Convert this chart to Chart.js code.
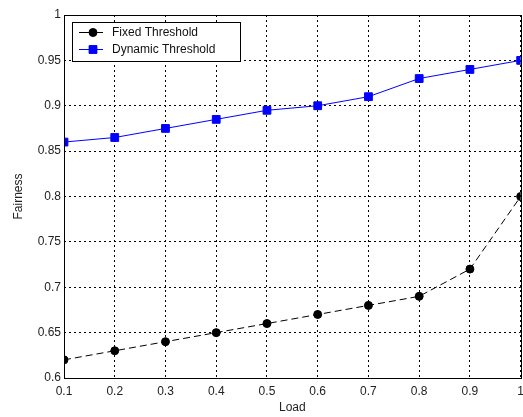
<!DOCTYPE html>
<html>
<head>
<meta charset="utf-8">
<script src="https://cdn.jsdelivr.net/npm/chart.js@4/dist/chart.umd.min.js"></script>
<style>
  html, body { margin: 0; padding: 0; overflow: hidden; background: #fff; }
  #wrap { width: 523px; height: 417px; overflow: hidden; }
</style>
</head>
<body>
<div id="wrap"><canvas id="chart" width="530" height="417"></canvas></div>
<script>
// data
const loads = [0.1, 0.2, 0.3, 0.4, 0.5, 0.6, 0.7, 0.8, 0.9, 1.0];
const fixedThreshold = [0.62, 0.63, 0.64, 0.65, 0.66, 0.67, 0.68, 0.69, 0.72, 0.80];
const dynamicThreshold = [0.86, 0.865, 0.875, 0.885, 0.895, 0.90, 0.91, 0.93, 0.94, 0.95];
const xTicks = [0.1, 0.2, 0.3, 0.4, 0.5, 0.6, 0.7, 0.8, 0.9, 1];
const yTicks = [0.6, 0.65, 0.7, 0.75, 0.8, 0.85, 0.9, 0.95, 1];

const FONT = 'Liberation Sans, Arial, sans-serif';
const toPoints = (ys) => loads.map((x, i) => ({ x: x, y: ys[i] }));
const fmt = (v) => String(Number(v.toFixed(2)));

// box around the axes + legend inside the plot (matlab style)
const boxAndLegend = {
    id: 'boxAndLegend',
    afterDatasetsDraw(chart) {
        const { ctx, chartArea: a } = chart;
        ctx.save();
        ctx.strokeStyle = '#000';
        ctx.lineWidth = 1;
        ctx.setLineDash([]);
        ctx.strokeRect(Math.round(a.left) + 0.5, Math.round(a.top) + 0.5,
            Math.round(a.right - a.left), Math.round(a.bottom - a.top));

        // legend box
        const lx = 72, ly = 22, lw = 168, lh = 39;
        ctx.fillStyle = '#fff';
        ctx.fillRect(lx, ly, lw, lh);
        ctx.strokeRect(lx + 0.5, ly + 0.5, lw, lh);

        const rows = chart.data.datasets.map((ds, i) => ({ ds, y: ly + 10.5 + i * 17 }));
        rows.forEach(({ ds, y }) => {
            ctx.strokeStyle = ds.borderColor;
            ctx.lineWidth = 1;
            ctx.setLineDash([]);
            ctx.beginPath();
            ctx.moveTo(79, y);
            ctx.lineTo(103, y);
            ctx.stroke();
            Chart.helpers.drawPoint(ctx, {
                pointStyle: ds.pointStyle,
                radius: ds.pointRadius,
                borderWidth: 1
            }, 93, y);
            ctx.fillStyle = ds.pointBackgroundColor;
            ctx.fill();
            ctx.fillStyle = '#111';
            ctx.font = '12px ' + FONT;
            ctx.textBaseline = 'middle';
            ctx.textAlign = 'left';
            ctx.fillText(ds.label, 112, y);
        });
        ctx.restore();
    }
};

new Chart(document.getElementById('chart').getContext('2d'), {
    type: 'line',
    data: {
        datasets: [
            {
                label: 'Fixed Threshold',
                data: toPoints(fixedThreshold),
                borderColor: '#000',
                borderWidth: 1,
                borderDash: [7, 4],
                pointStyle: 'circle',
                pointRadius: 4,
                pointBackgroundColor: '#000',
                pointBorderColor: '#000',
                tension: 0
            },
            {
                label: 'Dynamic Threshold',
                data: toPoints(dynamicThreshold),
                borderColor: '#0000ff',
                borderWidth: 1,
                pointStyle: 'rect',
                pointRadius: 5.5,
                pointBackgroundColor: '#0000ff',
                pointBorderColor: '#0000ff',
                tension: 0
            }
        ]
    },
    options: {
        responsive: false,
        animation: false,
        layout: { padding: { left: 0, right: 4, top: 15, bottom: 0 } },
        plugins: {
            legend: { display: false },
            tooltip: { enabled: false }
        },
        scales: {
            x: {
                type: 'linear',
                min: 0.1,
                max: 1,
                afterBuildTicks: (s) => { s.ticks = xTicks.map(v => ({ value: v })); },
                afterFit: (s) => { s.height = 39; },
                grid: { color: '#000', lineWidth: 1, drawTicks: false },
                border: { display: false, dash: [2, 3] },
                ticks: {
                    color: '#222',
                    font: { family: FONT, size: 12 },
                    padding: 6,
                    maxRotation: 0,
                    callback: (v) => fmt(v)
                },
                title: {
                    display: true,
                    text: 'Load',
                    color: '#222',
                    font: { family: FONT, size: 12 },
                    padding: { top: 2, bottom: 2 }
                }
            },
            y: {
                min: 0.6,
                max: 1,
                afterBuildTicks: (s) => { s.ticks = yTicks.map(v => ({ value: v })); },
                afterFit: (s) => { s.width = 64; },
                grid: { color: '#000', lineWidth: 1, drawTicks: false },
                border: { display: false, dash: [2, 3] },
                ticks: {
                    color: '#222',
                    font: { family: FONT, size: 12 },
                    padding: 3,
                    callback: (v) => fmt(v)
                },
                title: {
                    display: true,
                    text: 'Fairness',
                    color: '#222',
                    font: { family: FONT, size: 12 },
                    padding: { top: 11, bottom: 0 }
                }
            }
        }
    },
    plugins: [boxAndLegend]
});
</script>
</body>
</html>
